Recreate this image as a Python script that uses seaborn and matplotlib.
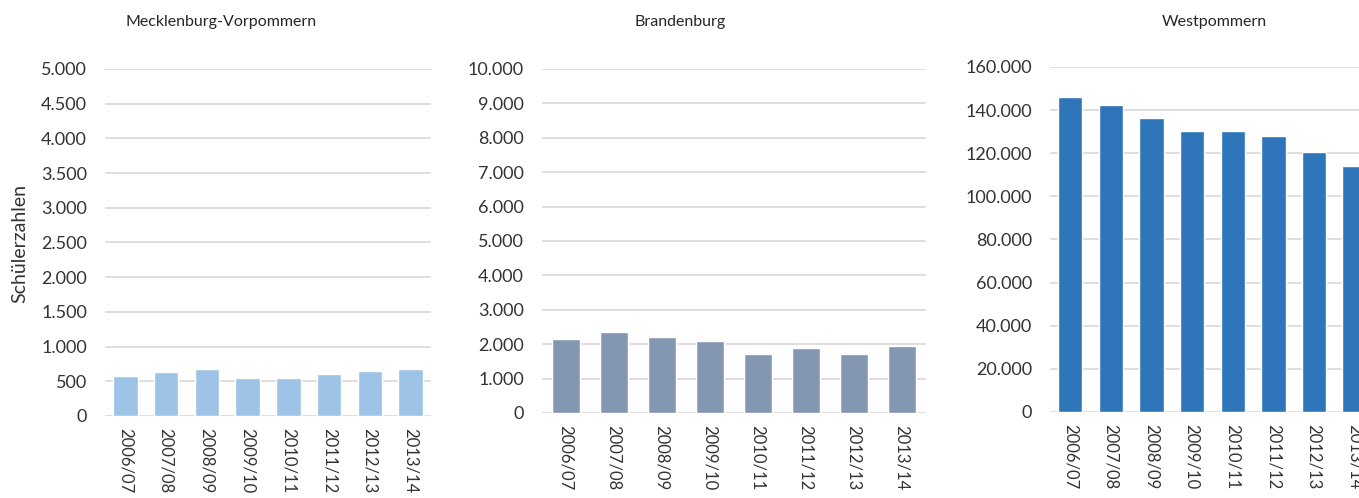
import matplotlib
matplotlib.use("Agg")
import matplotlib.pyplot as plt
import seaborn as sns
from matplotlib.ticker import FuncFormatter, MultipleLocator

# school years (x categories)
years = ["2006/07", "2007/08", "2008/09", "2009/10",
         "2010/11", "2011/12", "2012/13", "2013/14"]

# pupils per region
mv_values = [580, 640, 680, 550, 550, 600, 645, 675]
bb_values = [2150, 2350, 2200, 2100, 1720, 1880, 1720, 1940]
wp_values = [146200, 142400, 136500, 130500, 130500, 128200, 120400, 114200]

titles = ["Mecklenburg-Vorpommern", "Brandenburg", "Westpommern"]
ylabel = "Schülerzahlen"

sns.set_theme(style="white")
plt.rcParams["font.family"] = ["Lato", "DejaVu Sans"]

text_col = "#333333"
grid_col = "#d9d9d9"


def de_thousands(v, pos):
    return f"{int(round(v)):,}".replace(",", ".")


fig = plt.figure(figsize=(13.59, 4.98), dpi=100)

rects = [
    [0.0773, 0.1647, 0.2399, 0.6968],
    [0.3988, 0.1707, 0.2826, 0.6908],
    [0.7726, 0.1727, 0.2391, 0.6928],
]
series = [mv_values, bb_values, wp_values]
colors = ["#9dc3e6", "#8497b2", "#2e75ba"]
limits = [(5000, 500), (10000, 1000), (160000, 20000)]
title_x = [221, 680, 1214]

for rect, vals, col, (ymax, step), tx, title in zip(rects, series, colors, limits, title_x, titles):
    ax = fig.add_axes(rect)
    sns.barplot(x=years, y=vals, color=col, saturation=1, width=0.6, ax=ax)
    ax.set_ylim(0, ymax)
    ax.set_xlim(-0.5, 7.5)
    ax.yaxis.set_major_locator(MultipleLocator(step))
    ax.yaxis.set_major_formatter(FuncFormatter(de_thousands))
    ax.grid(axis="y", color=grid_col, linewidth=1.2)
    ax.set_axisbelow(True)
    for s in ["top", "right", "left", "bottom"]:
        ax.spines[s].set_visible(False)
    ax.tick_params(axis="y", length=0, pad=13, labelsize=13, labelcolor=text_col)
    ax.tick_params(axis="x", length=0, pad=9, labelsize=12, labelcolor=text_col,
                   labelrotation=-90)
    ax.set_xlabel("")
    ax.set_ylabel("")
    for lab in ax.get_xticklabels():
        lab.set_va("top")
        lab.set_ha("center")
    fig.text(tx / 1359, 1 - 22 / 498, title, ha="center", va="center",
             fontsize=11.5, color="#262626")

fig.text(20 / 1359, 1 - 243 / 498, ylabel, rotation=90, ha="center", va="center",
         fontsize=14, color=text_col)

fig.savefig("out.png", dpi=100)
